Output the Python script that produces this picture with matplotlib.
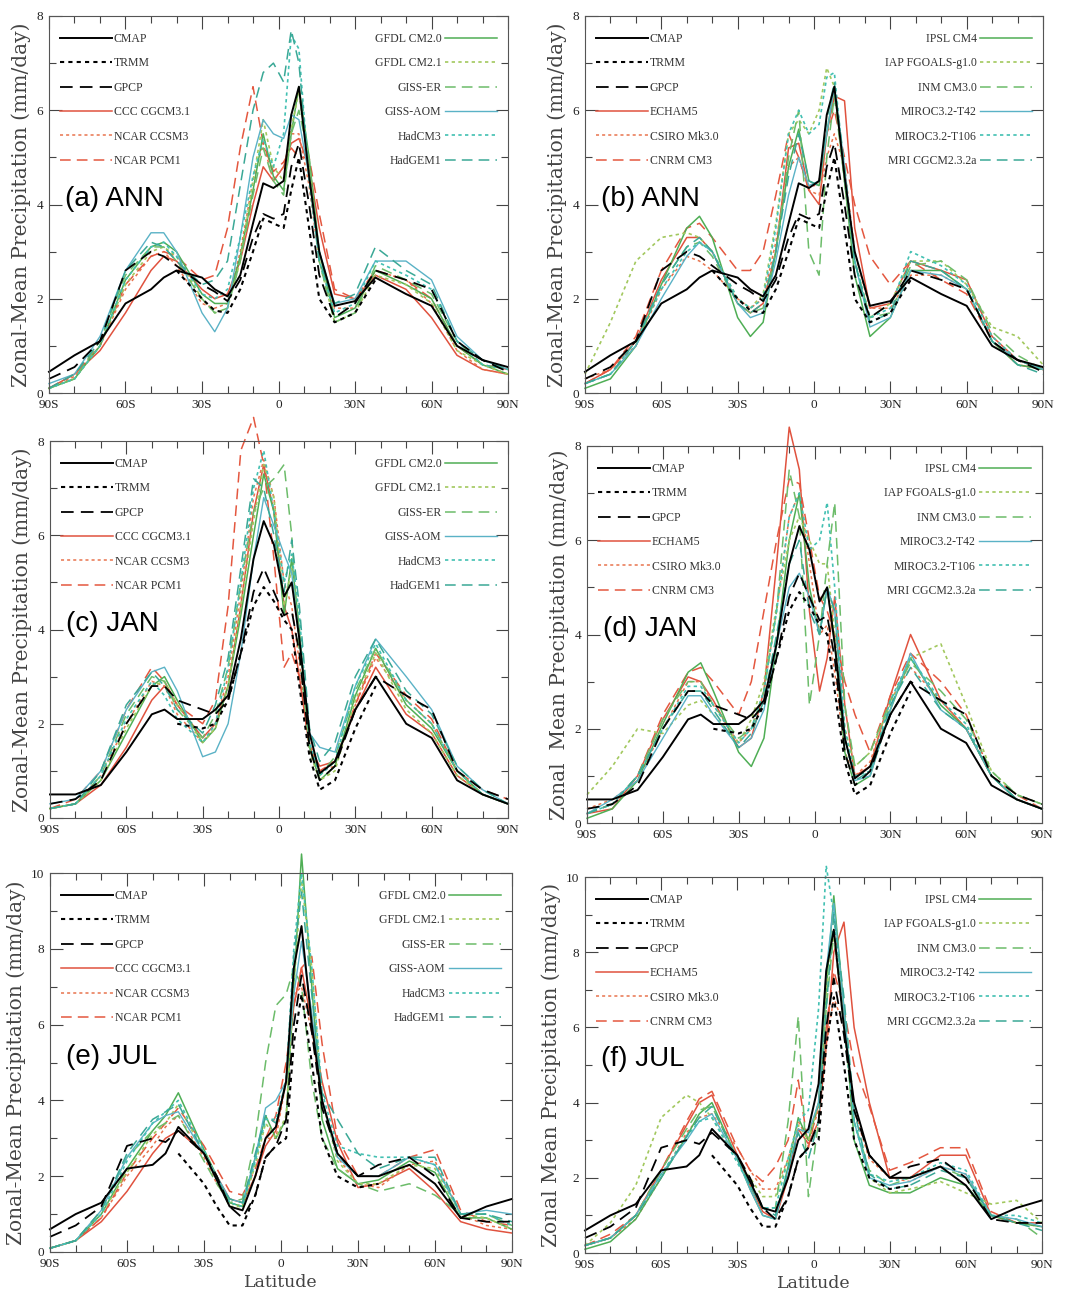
import numpy as np
import matplotlib
matplotlib.use("Agg")
import matplotlib.pyplot as plt
from matplotlib.ticker import MultipleLocator, FixedLocator

N = np.nan

# 纬度格点
LAT = [-90, -80, -70, -60, -50, -45, -40, -30, -25, -20, -15, -10, -6, -2,
       2, 5, 8, 12, 16, 22, 30, 38, 50, 60, 70, 80, 90]

# ---------------- 观测 ----------------
ANN_CMAP = [0.45, 0.8, 1.1, 1.9, 2.2, 2.45, 2.6, 2.45, 2.2, 2.05, 2.5, 3.6, 4.45, 4.35, 4.5, 5.9, 6.5, 4.6, 3.0, 1.85, 1.95, 2.45, 2.1, 1.85, 1.0, 0.7, 0.55]
ANN_TRMM = [N, N, N, N, N, N, 2.6, 2.0, 1.75, 1.7, 2.2, 3.0, 3.7, 3.6, 3.5, 4.3, 5.0, 3.5, 2.0, 1.5, 1.7, 2.4, N, N, N, N, N]
ANN_GPCP = [0.3, 0.55, 1.1, 2.6, 3.0, 2.9, 2.7, 2.3, 2.15, 1.95, 2.4, 3.3, 3.8, 3.7, 3.8, 4.8, 5.3, 4.0, 2.5, 1.6, 1.9, 2.6, 2.4, 2.2, 1.1, 0.7, 0.45]

JAN_CMAP = [0.5, 0.5, 0.7, 1.4, 2.2, 2.3, 2.1, 2.1, 2.3, 2.6, 3.8, 5.5, 6.3, 5.8, 4.7, 5.0, 3.8, 1.8, 0.95, 1.2, 2.3, 3.0, 2.0, 1.7, 0.8, 0.5, 0.3]
JAN_TRMM = [N, N, N, N, N, N, 2.0, 1.9, 2.0, 2.5, 3.5, 4.5, 4.9, 4.6, 4.2, 4.0, 2.8, 1.3, 0.6, 0.8, 1.9, 2.8, N, N, N, N, N]
JAN_GPCP = [0.3, 0.4, 0.8, 2.0, 2.8, 2.8, 2.5, 2.3, 2.2, 2.5, 3.5, 4.8, 5.3, 4.8, 4.3, 4.4, 3.5, 1.5, 0.8, 1.1, 2.3, 3.0, 2.6, 2.3, 1.0, 0.6, 0.4]

JUL_CMAP = [0.6, 1.0, 1.3, 2.2, 2.3, 2.6, 3.3, 2.6, 1.9, 1.2, 1.1, 2.0, 3.0, 3.3, 4.5, 7.5, 8.6, 6.0, 4.0, 2.6, 2.0, 2.0, 2.3, 1.8, 0.9, 1.2, 1.4]
JUL_TRMM = [N, N, N, N, N, N, 2.6, 1.8, 1.2, 0.7, 0.7, 1.5, 2.5, 2.8, 3.0, 5.5, 6.8, 5.0, 3.0, 2.0, 1.7, 1.8, N, N, N, N, N]
JUL_GPCP = [0.4, 0.7, 1.2, 2.8, 3.0, 2.9, 3.2, 2.6, 2.0, 1.2, 0.9, 1.5, 2.5, 2.8, 3.5, 6.0, 7.3, 5.8, 3.8, 2.6, 2.0, 2.3, 2.5, 2.0, 0.9, 0.8, 0.8]

# ---------------- 模式 第一组 (a, c, e) ----------------
ANN_CCC = [0.1, 0.4, 0.9, 1.7, 2.6, 2.9, 2.8, 2.2, 2.0, 2.1, 2.8, 4.0, 4.8, 4.5, 4.8, 5.3, 5.4, 4.8, 3.5, 2.1, 2.0, 2.5, 2.2, 1.6, 0.8, 0.5, 0.4]
ANN_CCSM3 = [0.1, 0.35, 1.0, 2.2, 2.9, 3.0, 2.7, 1.9, 1.8, 1.9, 3.0, 4.5, 5.3, 4.5, 4.8, 5.5, 5.5, 4.4, 2.8, 1.8, 1.8, 2.6, 2.4, 1.9, 0.9, 0.5, 0.4]
ANN_PCM1 = [0.1, 0.4, 1.0, 2.3, 2.9, 3.0, 2.9, 2.4, 2.5, 3.5, 5.2, 6.5, 5.3, 4.7, 4.9, 5.2, 5.0, 5.0, 3.8, 2.2, 2.0, 2.6, 2.4, 2.0, 1.0, 0.6, 0.5]
ANN_GFDL20 = [0.1, 0.3, 1.0, 2.4, 3.1, 3.2, 3.0, 2.1, 1.9, 1.9, 2.9, 4.3, 5.5, 4.6, 4.3, 5.5, 6.5, 5.0, 3.0, 1.6, 1.8, 2.6, 2.3, 2.0, 1.0, 0.6, 0.4]
ANN_GFDL21 = [0.1, 0.3, 1.0, 2.3, 3.0, 3.1, 2.9, 2.0, 1.7, 1.8, 2.8, 4.5, 5.8, 4.8, 4.5, 5.6, 6.4, 4.8, 2.8, 1.5, 1.7, 2.5, 2.3, 1.9, 0.9, 0.6, 0.4]
ANN_GISSER = [0.1, 0.3, 1.1, 2.5, 3.1, 3.1, 2.8, 2.0, 1.7, 1.8, 2.8, 4.2, 5.2, 4.5, 4.2, 5.5, 6.0, 5.0, 2.8, 1.5, 1.7, 2.7, 2.4, 2.1, 1.1, 0.6, 0.5]
ANN_GISSAOM = [0.2, 0.4, 1.2, 2.6, 3.4, 3.4, 3.0, 1.7, 1.3, 1.8, 3.3, 5.0, 5.8, 5.5, 5.4, 5.9, 5.8, 4.6, 3.0, 1.9, 2.0, 2.8, 2.8, 2.4, 1.2, 0.7, 0.5]
ANN_HADCM3 = [0.1, 0.3, 1.0, 2.4, 3.1, 3.2, 2.9, 2.1, 2.0, 2.2, 3.3, 4.6, 5.4, 4.8, 5.5, 7.6, 7.3, 4.5, 2.8, 1.7, 1.9, 2.8, 2.5, 2.2, 1.1, 0.6, 0.5]
ANN_HADGEM1 = [0.1, 0.4, 1.1, 2.6, 3.2, 3.1, 2.8, 2.3, 2.4, 2.8, 4.4, 6.0, 6.8, 7.0, 6.6, 7.7, 7.0, 4.6, 2.8, 1.9, 2.1, 3.1, 2.6, 2.3, 1.1, 0.7, 0.5]

JAN_CCC = [0.2, 0.3, 0.7, 1.5, 2.5, 2.8, 2.4, 1.7, 2.0, 2.8, 4.5, 6.5, 7.5, 6.5, 4.5, 4.0, 3.0, 1.5, 1.1, 1.2, 2.3, 3.2, 2.2, 1.8, 0.9, 0.5, 0.3]
JAN_CCSM3 = [0.2, 0.3, 0.9, 2.0, 2.9, 2.8, 2.2, 1.6, 2.0, 3.0, 4.8, 6.8, 7.6, 6.8, 5.0, 4.5, 3.3, 1.6, 1.0, 1.1, 2.4, 3.4, 2.5, 2.0, 1.0, 0.5, 0.3]
JAN_PCM1 = [0.2, 0.4, 1.0, 2.3, 3.2, 2.9, 2.4, 2.0, 2.5, 4.5, 7.8, 8.5, 7.5, 5.5, 3.2, 3.5, 3.0, 1.5, 1.0, 1.2, 2.4, 3.5, 2.6, 2.1, 1.0, 0.6, 0.4]
JAN_GFDL20 = [0.2, 0.3, 0.8, 1.8, 2.8, 3.0, 2.5, 1.6, 1.9, 2.8, 4.3, 6.0, 7.3, 6.5, 4.3, 5.5, 4.0, 1.5, 0.8, 1.1, 2.6, 3.6, 2.4, 1.9, 1.0, 0.5, 0.3]
JAN_GFDL21 = [0.2, 0.3, 0.8, 1.9, 2.8, 2.9, 2.4, 1.6, 1.9, 2.8, 4.5, 6.3, 7.5, 6.8, 4.5, 5.3, 3.8, 1.4, 0.8, 1.0, 2.5, 3.5, 2.3, 1.8, 0.9, 0.5, 0.3]
JAN_GISSER = [0.2, 0.3, 0.9, 2.2, 3.0, 2.9, 2.3, 1.7, 2.2, 3.2, 5.0, 6.5, 7.0, 7.2, 7.5, 6.0, 3.5, 1.5, 0.9, 1.3, 2.7, 3.6, 2.5, 2.0, 1.0, 0.5, 0.3]
JAN_GISSAOM = [0.3, 0.4, 1.0, 2.3, 3.1, 3.2, 2.7, 1.3, 1.4, 2.0, 3.5, 5.5, 6.8, 6.2, 5.6, 5.2, 3.8, 1.8, 1.5, 1.4, 2.8, 3.8, 3.0, 2.3, 1.1, 0.6, 0.3]
JAN_HADCM3 = [0.2, 0.3, 0.9, 2.1, 2.9, 2.6, 2.1, 1.6, 2.0, 3.2, 5.0, 7.0, 7.8, 6.5, 5.0, 5.6, 4.3, 1.6, 0.9, 1.2, 2.8, 3.7, 2.5, 2.0, 1.0, 0.5, 0.3]
JAN_HADGEM1 = [0.2, 0.3, 1.0, 2.4, 3.1, 2.8, 2.3, 1.8, 2.4, 3.4, 5.3, 7.2, 7.0, 6.0, 4.8, 5.9, 4.5, 1.9, 1.2, 1.6, 3.0, 3.8, 2.7, 2.2, 1.1, 0.6, 0.3]

JUL_CCC = [0.1, 0.3, 0.8, 1.6, 2.6, 3.0, 3.2, 2.6, 2.0, 1.4, 1.3, 2.0, 2.8, 3.2, 4.5, 6.5, 7.5, 6.0, 4.5, 2.9, 1.7, 1.8, 2.2, 1.6, 0.8, 0.6, 0.5]
JUL_CCSM3 = [0.1, 0.3, 0.9, 2.0, 2.8, 3.3, 3.6, 2.5, 1.8, 1.3, 1.2, 2.0, 3.0, 3.0, 4.5, 6.8, 7.0, 5.8, 4.0, 2.5, 1.8, 1.7, 2.3, 2.4, 1.0, 0.7, 0.6]
JUL_PCM1 = [0.1, 0.3, 0.9, 2.1, 3.0, 3.4, 3.8, 2.8, 2.2, 1.6, 1.5, 2.2, 3.0, 3.6, 5.0, 6.5, 7.5, 7.8, 5.5, 3.0, 2.0, 2.0, 2.5, 2.7, 1.1, 0.8, 0.7]
JUL_GFDL20 = [0.1, 0.3, 1.0, 2.2, 3.2, 3.6, 4.2, 2.7, 2.0, 1.3, 1.2, 2.5, 3.6, 3.0, 3.5, 7.0, 10.5, 7.0, 3.5, 2.2, 1.8, 1.9, 2.4, 2.1, 0.9, 0.9, 0.6]
JUL_GFDL21 = [0.1, 0.3, 1.0, 2.1, 3.1, 3.4, 3.9, 2.6, 1.9, 1.2, 1.2, 2.3, 3.4, 3.0, 3.6, 7.0, 9.8, 7.5, 4.0, 2.4, 1.8, 1.8, 2.3, 2.2, 1.0, 0.9, 0.6]
JUL_GISSER = [0.1, 0.3, 1.1, 2.5, 3.2, 3.4, 3.6, 2.4, 1.8, 1.3, 1.4, 3.0, 5.0, 6.5, 6.8, 7.5, 7.0, 4.5, 3.0, 2.2, 1.8, 1.6, 1.8, 1.5, 1.0, 1.0, 0.7]
JUL_GISSAOM = [0.1, 0.3, 1.1, 2.5, 3.4, 3.6, 3.7, 2.6, 2.0, 1.4, 1.3, 2.5, 3.8, 4.0, 4.5, 6.8, 8.2, 6.3, 4.0, 2.5, 2.0, 2.0, 2.5, 2.3, 1.0, 1.1, 1.0]
JUL_HADCM3 = [0.1, 0.3, 1.0, 2.4, 3.4, 3.7, 4.0, 2.7, 1.9, 1.3, 1.2, 2.4, 3.5, 3.5, 4.5, 8.0, 10.0, 7.5, 4.2, 2.8, 2.6, 2.5, 2.5, 2.3, 1.0, 1.0, 0.7]
JUL_HADGEM1 = [0.1, 0.3, 1.1, 2.6, 3.5, 3.7, 3.9, 2.6, 1.9, 1.4, 1.3, 2.6, 3.6, 3.4, 4.5, 7.8, 9.5, 6.8, 4.2, 3.5, 2.6, 2.2, 2.5, 2.5, 1.0, 1.0, 0.8]

# ---------------- 模式 第二组 (b, d, f) ----------------
ANN_ECHAM5 = [0.2, 0.5, 1.1, 2.4, 3.3, 3.3, 3.0, 1.9, 1.7, 1.9, 3.0, 5.2, 5.3, 4.3, 4.0, 5.5, 6.3, 6.2, 3.5, 1.8, 1.9, 2.8, 2.6, 2.4, 1.2, 0.7, 0.5]
ANN_CSIRO = [0.3, 0.5, 1.0, 2.2, 2.9, 2.8, 2.6, 2.0, 1.8, 2.0, 3.2, 4.8, 5.0, 4.3, 4.2, 5.0, 5.5, 4.8, 3.0, 1.8, 1.8, 2.5, 2.5, 2.2, 1.1, 0.7, 0.5]
ANN_CNRM = [0.2, 0.5, 1.2, 2.6, 3.5, 3.6, 3.3, 2.6, 2.6, 3.0, 4.2, 5.5, 5.0, 4.3, 4.5, 5.5, 6.0, 5.0, 4.0, 2.9, 2.3, 2.8, 2.4, 2.1, 1.1, 0.6, 0.5]
ANN_IPSL = [0.1, 0.3, 1.0, 2.3, 3.5, 3.75, 3.3, 1.6, 1.2, 1.5, 3.0, 4.8, 5.6, 4.5, 4.4, 5.5, 6.5, 4.5, 2.5, 1.2, 1.6, 2.6, 2.6, 2.2, 1.1, 0.6, 0.5]
ANN_IAP = [0.4, 1.5, 2.8, 3.3, 3.4, 3.3, 3.0, 2.0, 1.8, 2.1, 3.6, 5.5, 5.8, 5.5, 6.0, 6.9, 6.5, 4.5, 2.8, 1.6, 1.9, 2.8, 2.8, 2.3, 1.4, 1.2, 0.6]
ANN_INM = [0.2, 0.4, 1.0, 2.3, 3.1, 3.2, 2.9, 1.9, 1.7, 1.8, 3.0, 5.0, 6.0, 3.0, 2.5, 5.0, 6.3, 4.5, 2.8, 1.6, 1.7, 2.7, 2.8, 2.4, 1.3, 0.8, 0.5]
ANN_MIROC42 = [0.2, 0.4, 1.0, 2.0, 2.9, 3.2, 3.0, 1.9, 1.6, 1.7, 2.8, 4.2, 5.0, 4.4, 4.5, 5.5, 6.5, 4.8, 2.8, 1.4, 1.6, 2.6, 2.5, 2.2, 1.1, 0.7, 0.5]
ANN_MIROC106 = [0.2, 0.4, 1.1, 2.2, 3.0, 3.2, 3.0, 2.0, 1.8, 2.0, 3.5, 5.5, 6.0, 5.5, 5.7, 6.7, 6.8, 4.6, 2.8, 1.6, 1.8, 3.0, 2.7, 2.3, 1.2, 0.7, 0.5]
ANN_MRI = [0.2, 0.4, 1.1, 2.3, 3.1, 3.3, 3.0, 1.9, 1.7, 1.9, 3.0, 4.6, 5.5, 4.5, 4.4, 5.8, 6.6, 4.8, 2.8, 1.5, 1.7, 2.8, 2.6, 2.2, 1.1, 0.6, 0.4]

JAN_ECHAM5 = [0.2, 0.3, 1.0, 2.2, 3.1, 3.0, 2.6, 1.6, 1.8, 2.8, 5.5, 8.4, 7.5, 4.5, 2.8, 3.5, 4.8, 2.5, 1.0, 1.2, 2.7, 4.0, 2.6, 2.0, 1.0, 0.5, 0.3]
JAN_CSIRO = [0.3, 0.5, 0.9, 2.0, 3.0, 3.0, 2.5, 1.7, 2.0, 2.8, 4.5, 6.5, 7.0, 5.5, 4.0, 4.2, 3.2, 1.5, 1.0, 1.3, 2.6, 3.3, 2.6, 2.0, 1.0, 0.5, 0.3]
JAN_CNRM = [0.2, 0.4, 1.0, 2.3, 3.2, 3.3, 3.0, 2.3, 3.0, 4.5, 6.0, 7.3, 7.2, 6.0, 4.8, 4.5, 4.0, 3.0, 2.3, 1.5, 2.7, 3.6, 3.0, 2.3, 1.0, 0.6, 0.3]
JAN_IPSL = [0.1, 0.3, 0.9, 2.1, 3.2, 3.4, 2.8, 1.5, 1.2, 1.8, 3.8, 6.0, 7.0, 5.0, 4.0, 5.0, 3.8, 1.5, 0.8, 1.0, 2.4, 3.5, 2.5, 2.0, 1.0, 0.5, 0.3]
JAN_IAP = [0.6, 1.2, 2.0, 1.9, 2.5, 2.6, 2.3, 1.7, 2.2, 3.0, 4.6, 6.0, 6.5, 6.0, 5.5, 5.5, 4.0, 2.0, 1.2, 1.5, 2.5, 3.5, 3.8, 2.5, 1.1, 0.6, 0.4]
JAN_INM = [0.2, 0.4, 1.0, 2.2, 3.0, 3.0, 2.5, 1.8, 2.0, 2.8, 4.5, 7.5, 6.5, 2.5, 4.0, 5.5, 6.8, 2.5, 1.2, 1.5, 2.6, 3.4, 2.8, 2.2, 1.1, 0.6, 0.4]
JAN_MIROC42 = [0.2, 0.5, 0.9, 1.8, 2.7, 2.7, 2.3, 1.6, 1.8, 2.4, 3.8, 5.0, 5.3, 4.8, 4.0, 5.0, 4.5, 1.8, 0.9, 1.0, 2.4, 3.6, 2.4, 2.0, 1.0, 0.5, 0.3]
JAN_MIROC106 = [0.2, 0.4, 1.0, 2.0, 2.9, 2.9, 2.5, 1.7, 2.0, 2.8, 4.5, 6.5, 7.0, 5.8, 6.0, 6.8, 5.0, 2.0, 1.0, 1.1, 2.6, 3.5, 2.6, 2.1, 1.0, 0.5, 0.3]
JAN_MRI = [0.2, 0.4, 1.0, 2.0, 2.8, 2.8, 2.4, 1.6, 1.9, 2.6, 4.0, 5.5, 6.0, 4.5, 4.0, 5.0, 4.5, 1.8, 0.9, 1.1, 2.5, 3.3, 2.4, 2.0, 1.0, 0.5, 0.3]

JUL_ECHAM5 = [0.2, 0.4, 1.0, 2.2, 3.4, 4.0, 4.2, 2.6, 1.8, 1.1, 0.9, 2.0, 3.3, 2.9, 3.5, 5.5, 8.0, 8.8, 6.0, 4.0, 2.0, 2.0, 2.6, 2.6, 1.0, 0.8, 0.8]
JUL_CSIRO = [0.2, 0.4, 0.9, 2.0, 3.2, 3.6, 3.7, 2.8, 2.2, 1.7, 1.7, 2.5, 3.5, 3.0, 3.8, 5.5, 6.8, 6.0, 3.8, 2.5, 2.0, 1.9, 2.3, 2.1, 1.0, 0.8, 0.7]
JUL_CNRM = [0.2, 0.5, 1.0, 2.2, 3.5, 4.1, 4.3, 2.8, 2.2, 1.9, 2.3, 3.0, 4.6, 2.8, 4.0, 6.0, 7.5, 6.5, 5.0, 3.9, 2.2, 2.4, 2.8, 2.8, 1.1, 0.8, 0.8]
JUL_IPSL = [0.1, 0.3, 0.9, 2.0, 3.1, 3.7, 4.0, 2.5, 1.7, 1.0, 0.9, 2.3, 3.6, 3.0, 4.0, 7.0, 9.5, 6.5, 3.0, 1.8, 1.6, 1.6, 2.0, 1.8, 1.0, 0.8, 0.7]
JUL_IAP = [0.2, 0.8, 1.8, 3.6, 4.2, 4.0, 3.6, 2.5, 2.0, 1.5, 1.5, 2.5, 3.4, 3.0, 4.0, 7.0, 8.5, 6.0, 3.5, 2.0, 1.6, 1.7, 1.9, 1.6, 1.3, 1.4, 0.8]
JUL_INM = [0.2, 0.4, 1.0, 2.2, 3.3, 3.8, 3.9, 2.5, 1.8, 1.2, 1.2, 3.5, 6.3, 1.5, 3.5, 6.5, 8.5, 6.5, 3.5, 2.2, 1.8, 2.0, 2.3, 2.0, 1.0, 0.9, 0.4]
JUL_MIROC42 = [0.2, 0.4, 1.0, 2.1, 3.0, 3.5, 3.7, 2.5, 1.7, 1.0, 0.9, 2.2, 3.3, 3.2, 4.0, 7.5, 9.3, 6.5, 3.5, 2.0, 1.8, 1.9, 2.3, 2.1, 1.0, 0.9, 0.7]
JUL_MIROC106 = [0.2, 0.4, 1.0, 2.1, 3.1, 3.5, 3.6, 2.4, 1.8, 1.2, 1.2, 2.5, 3.5, 3.8, 6.5, 10.3, 9.0, 6.0, 3.5, 2.1, 1.9, 2.0, 2.4, 2.2, 1.0, 1.0, 0.8]
JUL_MRI = [0.2, 0.4, 1.0, 2.0, 3.1, 3.6, 3.9, 2.5, 1.8, 1.2, 1.0, 2.2, 3.2, 2.5, 3.5, 6.5, 9.0, 6.8, 3.8, 2.1, 1.7, 1.8, 2.2, 2.0, 1.0, 0.8, 0.6]

OBS_NAMES = ["CMAP", "TRMM", "GPCP"]
GROUP1_NAMES = ["CCC CGCM3.1", "NCAR CCSM3", "NCAR PCM1", "GFDL CM2.0", "GFDL CM2.1",
                "GISS-ER", "GISS-AOM", "HadCM3", "HadGEM1"]
GROUP2_NAMES = ["ECHAM5", "CSIRO Mk3.0", "CNRM CM3", "IPSL CM4", "IAP FGOALS-g1.0",
                "INM CM3.0", "MIROC3.2-T42", "MIROC3.2-T106", "MRI CGCM2.3.2a"]

XTICKS = [-90, -60, -30, 0, 30, 60, 90]
XTICKLABELS = ["90S", "60S", "30S", "0", "30N", "60N", "90N"]

# 线型
DASH = (0, (7, 4))
DOT = (0, (2, 2))
OBS_STYLE = [("black", "-", 1.4), ("black", DOT, 1.5), ("black", DASH, 1.3)]
MODEL_STYLE = [("#e0523e", "-", 1.1), ("#e8744e", DOT, 1.1), ("#e4573f", DASH, 1.1),
               ("#4fae55", "-", 1.1), ("#a2c85e", DOT, 1.2), ("#6cbc6a", DASH, 1.1),
               ("#5ab2c6", "-", 1.0), ("#42c0b2", DOT, 1.2), ("#3aa896", DASH, 1.1)]

plt.rcParams["font.family"] = ["DejaVu Serif"]

fig = plt.figure(figsize=(10.66, 13), dpi=100)
W, H = 1066.0, 1300.0


def add_axes(left, top, right, bottom):
    return fig.add_axes([left / W, 1 - bottom / H, (right - left) / W, (bottom - top) / H])


def draw_panel(ax, obs, models, names, tag, ylabel, ymax, xlabel):
    lines = []
    for vals, (c, ls, lw) in zip(models, MODEL_STYLE):
        ln, = ax.plot(LAT, vals, color=c, linestyle=ls, linewidth=lw, clip_on=False)
        lines.append(ln)
    obs_lines = []
    for vals, (c, ls, lw) in zip(obs, OBS_STYLE):
        ln, = ax.plot(LAT, vals, color=c, linestyle=ls, linewidth=lw, clip_on=False)
        obs_lines.append(ln)

    ax.set_xlim(-90, 90)
    ax.set_ylim(0, ymax)
    ax.xaxis.set_major_locator(FixedLocator(XTICKS))
    ax.set_xticklabels(XTICKLABELS)
    ax.xaxis.set_minor_locator(MultipleLocator(10))
    ax.yaxis.set_major_locator(MultipleLocator(2))
    ax.yaxis.set_minor_locator(MultipleLocator(1))
    ax.tick_params(which="both", direction="in", top=True, right=True,
                   colors="#444444", labelcolor="#222222", width=0.8)
    ax.tick_params(which="major", length=9, labelsize=9.5, pad=4)
    ax.tick_params(which="minor", length=5)
    for lab in ax.get_xticklabels() + ax.get_yticklabels():
        lab.set_family("Liberation Serif")
    for sp in ax.spines.values():
        sp.set_color("#555555")
        sp.set_linewidth(0.8)

    ax.set_ylabel(ylabel, fontsize=14.5, labelpad=4, color="#444444")
    if xlabel:
        ax.set_xlabel("Latitude", fontsize=12.5, labelpad=3, color="#444444")

    ax.text(0.035, 0.515, tag, transform=ax.transAxes, fontsize=20,
            family="Liberation Sans", va="center", ha="left")

    prop = {"family": "Liberation Serif", "size": 8.5}
    leg1 = ax.legend(obs_lines + lines[:3], OBS_NAMES + names[:3], loc="upper left",
                     bbox_to_anchor=(0.024, 0.955), frameon=False, prop=prop,
                     handlelength=4.4, handletextpad=0.15, labelspacing=1.05,
                     borderpad=0, borderaxespad=0)
    for t in leg1.get_texts():
        t.set_color("#333333")
    ax.add_artist(leg1)
    leg2 = ax.legend(lines[3:], names[3:], loc="upper right",
                     bbox_to_anchor=(0.976, 0.955), frameon=False, prop=prop,
                     handlelength=4.4, handletextpad=0.3, labelspacing=1.05,
                     borderpad=0, borderaxespad=0, markerfirst=False)
    for t in leg2.get_texts():
        t.set_color("#333333")


ax_a = add_axes(49, 16, 508, 393)
ax_b = add_axes(585, 16, 1043, 393)
ax_c = add_axes(50, 441, 508, 818)
ax_d = add_axes(587, 446, 1042, 823)
ax_e = add_axes(50, 873, 512, 1252)
ax_f = add_axes(585, 877, 1042, 1253)

ann_obs = [ANN_CMAP, ANN_TRMM, ANN_GPCP]
jan_obs = [JAN_CMAP, JAN_TRMM, JAN_GPCP]
jul_obs = [JUL_CMAP, JUL_TRMM, JUL_GPCP]

YLAB = "Zonal-Mean Precipitation (mm/day)"

draw_panel(ax_a, ann_obs,
           [ANN_CCC, ANN_CCSM3, ANN_PCM1, ANN_GFDL20, ANN_GFDL21, ANN_GISSER, ANN_GISSAOM, ANN_HADCM3, ANN_HADGEM1],
           GROUP1_NAMES, "(a) ANN", YLAB, 8, False)
draw_panel(ax_b, ann_obs,
           [ANN_ECHAM5, ANN_CSIRO, ANN_CNRM, ANN_IPSL, ANN_IAP, ANN_INM, ANN_MIROC42, ANN_MIROC106, ANN_MRI],
           GROUP2_NAMES, "(b) ANN", YLAB, 8, False)
draw_panel(ax_c, jan_obs,
           [JAN_CCC, JAN_CCSM3, JAN_PCM1, JAN_GFDL20, JAN_GFDL21, JAN_GISSER, JAN_GISSAOM, JAN_HADCM3, JAN_HADGEM1],
           GROUP1_NAMES, "(c) JAN", YLAB, 8, False)
draw_panel(ax_d, jan_obs,
           [JAN_ECHAM5, JAN_CSIRO, JAN_CNRM, JAN_IPSL, JAN_IAP, JAN_INM, JAN_MIROC42, JAN_MIROC106, JAN_MRI],
           GROUP2_NAMES, "(d) JAN", "Zonal  Mean Precipitation (mm/day)", 8, False)
draw_panel(ax_e, jul_obs,
           [JUL_CCC, JUL_CCSM3, JUL_PCM1, JUL_GFDL20, JUL_GFDL21, JUL_GISSER, JUL_GISSAOM, JUL_HADCM3, JUL_HADGEM1],
           GROUP1_NAMES, "(e) JUL", YLAB, 10, True)
draw_panel(ax_f, jul_obs,
           [JUL_ECHAM5, JUL_CSIRO, JUL_CNRM, JUL_IPSL, JUL_IAP, JUL_INM, JUL_MIROC42, JUL_MIROC106, JUL_MRI],
           GROUP2_NAMES, "(f) JUL", "Zonal Mean Precipitation (mm/day)", 10, True)

fig.savefig("out.png", dpi=100)
plt.close(fig)
